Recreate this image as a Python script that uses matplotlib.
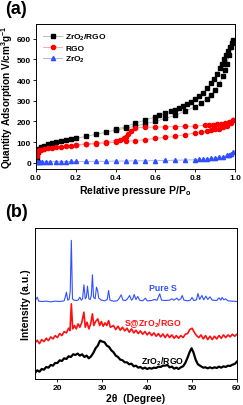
import matplotlib
matplotlib.use("Agg")
import matplotlib.pyplot as plt

plt.rcParams['font.family'] = ['Liberation Sans', 'DejaVu Sans']
plt.rcParams['mathtext.default'] = 'regular'

# ---------------- Panel (a) data ----------------
zr_rgo_ads_x = [0.003,0.008,0.015,0.025,0.04,0.06,0.08,0.1,0.125,0.15,0.175,0.2,0.25,0.3,0.35,0.4,0.45,0.5,0.55,0.6,0.65,0.7,0.75,0.8,0.83,0.86,0.88,0.9,0.92,0.94,0.95,0.96,0.97,0.98,0.99]
zr_rgo_ads_y = [25,55,68,76,84,90,95,100,105,110,114,118,128,138,148,158,168,178,190,200,215,230,250,272,290,310,330,350,380,420,450,480,520,560,590]
zr_rgo_des_x = [0.99,0.985,0.975,0.965,0.955,0.945,0.935,0.925,0.91,0.895,0.88,0.86,0.84,0.82,0.8,0.78,0.76,0.74,0.72,0.7,0.68,0.65,0.62,0.6,0.55,0.5,0.45,0.4]
zr_rgo_des_y = [595,580,560,540,520,500,480,460,430,405,385,360,340,322,308,295,285,275,265,257,250,240,230,222,207,192,175,162]

rgo_ads_x = [0.003,0.008,0.015,0.025,0.04,0.06,0.08,0.1,0.125,0.15,0.175,0.2,0.25,0.3,0.35,0.4,0.45,0.5,0.55,0.6,0.65,0.7,0.75,0.8,0.83,0.86,0.88,0.9,0.92,0.94,0.96,0.98,0.99]
rgo_ads_y = [35,52,60,64,68,71,74,76,79,82,84,86,89,92,96,100,104,108,113,118,123,128,136,145,150,154,158,162,166,172,180,192,205]
rgo_des_x = [0.99,0.97,0.95,0.93,0.91,0.89,0.87,0.85,0.8,0.75,0.7,0.65,0.6,0.55,0.5,0.48,0.46,0.45,0.44,0.42,0.4,0.35,0.3,0.25,0.2]
rgo_des_y = [205,198,194,190,187,185,183,181,178,176,175,174,173,172,170,155,138,125,118,112,108,102,96,92,88]

zro2_x = [0.005,0.01,0.02,0.03,0.05,0.07,0.1,0.125,0.15,0.175,0.2,0.25,0.3,0.35,0.4,0.45,0.5,0.55,0.6,0.65,0.7,0.75,0.8,0.82,0.84,0.86,0.88,0.9,0.92,0.94,0.96,0.97,0.98,0.99]
zro2_y = [3,5,6,6,6,6,6,6,6,7,7,7,8,8,9,9,10,10,11,12,13,14,15,17,18,20,22,24,27,30,36,40,45,52]

# ---------------- Panel (b) data ----------------
pure_s_x = [15.0,15.5,15.8,16.5,17.5,18.5,19.5,20.5,21.5,21.8,22.0,22.3,22.6,22.85,23.1,23.35,23.7,24.2,24.6,25.0,25.3,25.6,25.9,26.2,26.45,26.7,27.0,27.3,27.55,27.8,28.05,28.4,28.7,28.95,29.2,29.8,30.5,31.1,31.4,31.7,32.5,33.3,33.7,34.2,34.6,35.2,35.6,36.1,36.5,36.8,37.1,37.5,37.9,38.3,39.0,39.6,40.0,41.0,41.6,42.2,42.8,43.2,44.0,45.0,45.5,46.0,46.6,47.0,47.5,47.8,48.2,49.0,49.6,50.0,50.4,51.0,51.3,51.7,52.2,52.6,53.1,53.5,54.0,54.5,55.5,56.0,56.4,56.7,57.1,57.5,58.0,59.0,60.0]
pure_s_y = [234,245,233,232,233,231,233,232,234,248,260,236,238,262,415,240,236,235,236,245,236,240,282,240,245,278,240,238,250,312,245,240,275,265,242,236,234,238,265,236,233,234,240,252,236,235,240,250,236,240,253,238,247,236,234,242,234,235,238,236,255,236,235,236,240,236,242,236,240,250,236,234,236,244,235,237,256,238,250,237,248,238,246,236,235,243,236,244,237,240,234,233,232]

s_zr_rgo_x = [15.0,15.5,16.0,16.5,17.0,17.5,18.0,18.5,19.0,19.5,20.0,20.5,21.0,21.5,22.0,22.5,22.8,23.1,23.4,23.8,24.2,24.6,25.0,25.4,25.9,26.2,26.6,27.0,27.4,27.8,28.1,28.5,29.0,29.4,29.8,30.2,30.6,31.0,31.4,31.8,32.5,33.0,33.5,34.0,34.5,35.0,35.5,36.0,36.5,37.0,37.5,38.0,38.5,39.0,39.5,40.0,40.5,41.0,41.5,42.0,42.5,43.0,43.5,44.0,44.5,45.0,45.5,46.0,46.5,47.0,47.5,48.0,48.5,49.0,49.5,50.0,50.5,51.0,51.5,52.0,52.5,53.0,53.5,54.0,54.5,55.0,55.5,56.0,56.5,57.0,57.5,58.0,58.5,59.0,59.5,60.0]
s_zr_rgo_y = [108,116,106,118,112,122,115,126,120,130,124,136,130,142,138,152,145,225,150,160,150,165,155,168,200,155,170,150,165,195,160,172,180,160,172,158,168,160,175,155,160,148,158,146,155,144,152,140,150,138,146,136,144,134,142,132,140,130,138,128,136,126,135,124,134,124,132,122,130,122,130,124,134,136,148,152,140,130,124,132,120,130,118,128,118,128,120,130,122,132,124,132,126,134,128,134]

zr_rgo_x = [15.0,15.5,16.0,16.5,17.0,17.5,18.0,18.5,19.0,19.5,20.0,20.5,21.0,21.5,22.0,22.5,23.0,23.5,24.0,24.5,25.0,25.5,26.0,26.5,27.0,27.5,28.0,28.5,29.0,29.5,30.0,30.5,31.0,31.5,32.0,32.5,33.0,33.5,34.0,34.5,35.0,35.5,36.0,36.5,37.0,37.5,38.0,38.5,39.0,39.5,40.0,40.5,41.0,41.5,42.0,42.5,43.0,43.5,44.0,44.5,45.0,45.5,46.0,46.5,47.0,47.5,48.0,48.5,49.0,49.5,49.9,50.3,50.8,51.3,52.0,52.5,53.0,53.5,54.0,54.5,55.0,55.5,56.0,56.5,57.0,57.5,58.0,58.5,59.0,59.5,60.0]
zr_rgo_y = [18,26,22,30,28,36,34,42,40,48,48,56,54,62,60,68,66,74,72,76,70,74,66,70,62,68,78,92,100,115,112,110,100,96,86,80,70,66,58,56,50,50,44,46,38,40,34,36,31,34,30,33,31,34,33,37,36,40,40,42,35,37,31,34,30,35,38,48,64,82,92,80,58,44,38,34,35,32,35,32,35,33,37,34,38,36,40,39,43,45,52]

pa_xticks = [0.0, 0.2, 0.4, 0.6, 0.8, 1.0]
pa_yticks = [0, 100, 200, 300, 400, 500, 600]
pb_xticks = [20, 30, 40, 50, 60]

fig = plt.figure(figsize=(2.43, 4.06), dpi=100)

# ---------- (a) ----------
ax1 = fig.add_axes([0.148, 0.581, 0.819, 0.357])
ms = 3.0
ax1.plot(zr_rgo_ads_x, zr_rgo_ads_y, color='#b0b0b0', lw=0.6, marker='s', ms=ms,
         mfc='black', mec='black', label='ZrO$_2$/RGO')
ax1.plot(zr_rgo_des_x, zr_rgo_des_y, color='#b0b0b0', lw=0.6, marker='s', ms=ms,
         mfc='black', mec='black')
ax1.plot(rgo_ads_x, rgo_ads_y, color='#ff9a9a', lw=0.6, marker='o', ms=ms,
         mfc='#ff0000', mec='#ff0000', label='RGO')
ax1.plot(rgo_des_x, rgo_des_y, color='#ff9a9a', lw=0.6, marker='o', ms=ms,
         mfc='#ff0000', mec='#ff0000')
ax1.plot(zro2_x, zro2_y, color='#a0a8ff', lw=0.6, marker='^', ms=ms,
         mfc='#3050ff', mec='#3050ff', label='ZrO$_2$')
ax1.set_xlim(0, 1.0)
ax1.set_ylim(-30, 670)
ax1.set_xticks(pa_xticks)
ax1.set_xticklabels([f'{t:.1f}' for t in pa_xticks])
ax1.set_yticks(pa_yticks)
ax1.tick_params(labelsize=6, length=2, width=0.6, pad=1.5, direction='out')
for lbl in ax1.get_xticklabels() + ax1.get_yticklabels():
    lbl.set_fontweight('bold')
for s in ax1.spines.values():
    s.set_linewidth(0.7)
ax1.set_xlabel('Relative pressure P/P$_o$', fontsize=7.5, fontweight='bold', labelpad=1.5)
ax1.set_ylabel('Quantity Adsorption V/cm$^3$g$^{-1}$', fontsize=7.2, fontweight='bold', labelpad=1.5)
leg = ax1.legend(loc='upper left', fontsize=6, frameon=False, handlelength=2.2,
                 handletextpad=0.4, borderaxespad=0.5, labelspacing=0.25)
for t in leg.get_texts():
    t.set_fontweight('bold')
fig.text(0.02, 0.997, '(a)', fontsize=13, fontweight='bold', va='top', ha='left')

# ---------- (b) ----------
ax2 = fig.add_axes([0.144, 0.064, 0.831, 0.372])
ax2.plot(zr_rgo_x, zr_rgo_y, color='black', lw=1.6)
ax2.plot(s_zr_rgo_x, s_zr_rgo_y, color='#ff1010', lw=1.2)
ax2.plot(pure_s_x, pure_s_y, color='#3050ff', lw=0.8)
ax2.set_xlim(15, 60)
ax2.set_ylim(0, 452)
ax2.set_xticks(pb_xticks)
ax2.set_yticks([])
ax2.tick_params(labelsize=6, length=2, width=0.6, pad=1.5, direction='out')
for lbl in ax2.get_xticklabels():
    lbl.set_fontweight('bold')
for s in ax2.spines.values():
    s.set_linewidth(0.7)
ax2.set_xlabel('2θ  (Degree)', fontsize=7.5, fontweight='bold', labelpad=1.5)
ax2.set_ylabel('Intensity (a.u.)', fontsize=7.5, fontweight='bold', labelpad=3)
ax2.text(43.5, 266, 'Pure S', color='#3050ff', fontsize=6.3, fontweight='bold', ha='center', va='baseline')
ax2.text(41.2, 160, 'S@ZrO$_2$/RGO', color='#ff1010', fontsize=6.3, fontweight='bold', ha='center', va='baseline')
ax2.text(43.5, 46, 'ZrO$_2$/RGO', color='black', fontsize=6.3, fontweight='bold', ha='center', va='baseline')
fig.text(0.02, 0.497, '(b)', fontsize=13, fontweight='bold', va='top', ha='left')

fig.savefig('out.png', dpi=100)
